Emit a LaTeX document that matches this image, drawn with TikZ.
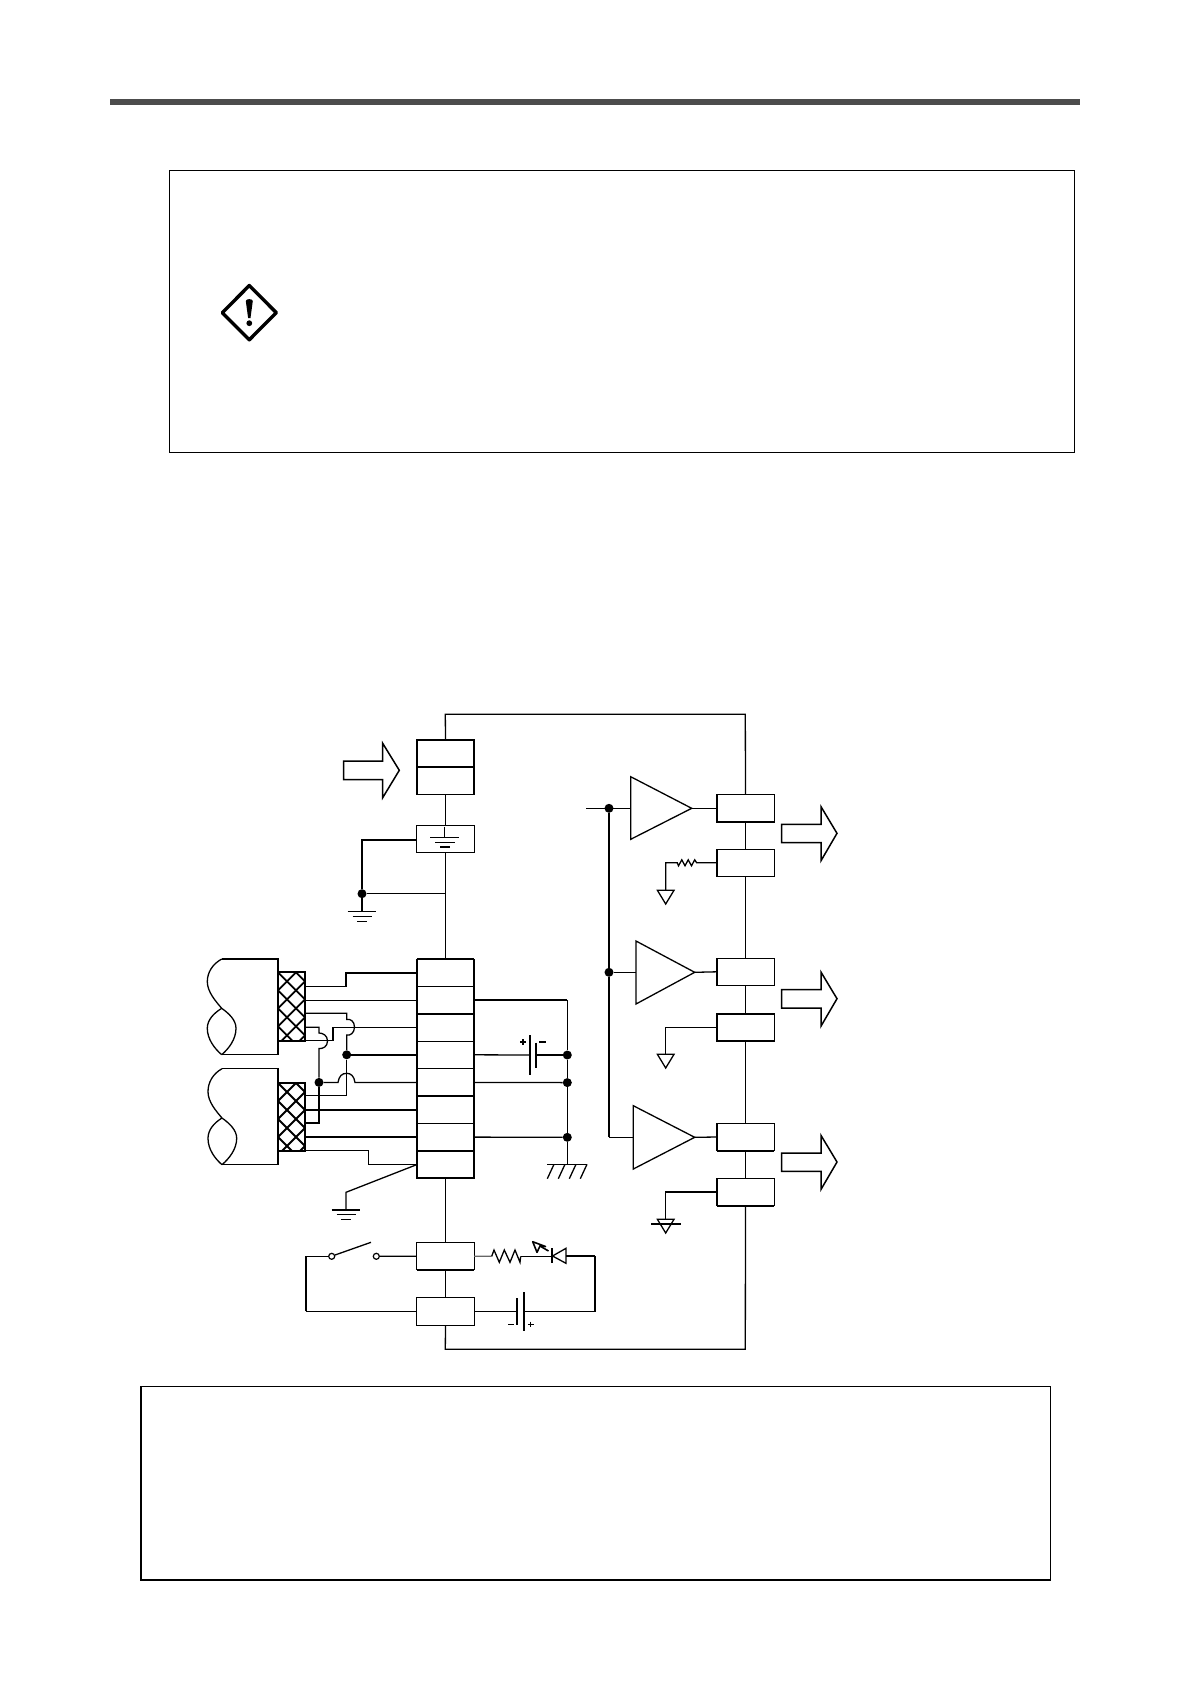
\documentclass[tikz,border=0pt]{standalone}
\usetikzlibrary{calc}
\begin{document}
\begin{tikzpicture}[x=1pt,y=-1pt,line join=miter,
  wire/.style={line width=1.3pt},
  wirethick/.style={line width=1.8pt},
  frameline/.style={line width=1.2pt},
  termcell/.style={draw,fill=white,line width=1.1pt,rectangle,inner sep=0pt,outer sep=0pt,minimum width=57.4pt,minimum height=27.4pt,anchor=center},
  dotnode/.style={circle,fill=black,inner sep=0pt,minimum size=9pt},
  opendot/.style={circle,draw,fill=white,line width=1.2pt,inner sep=0pt,minimum size=6pt},
  amp/.style={line width=1.3pt,fill=white},
  bigarrow/.style={line width=1.5pt,fill=white},
  gnd/.pic={\draw[wire] (-14.3,0)--(14.3,0) (-9.5,4.8)--(9.5,4.8) (-4.8,9.5)--(4.8,9.5);},
  tri/.pic={\draw[wire,fill=white] (-8.3,0)--(8.3,0)--(0,13.7)--cycle;}]
\useasboundingbox (0,0) rectangle (1190,1684);
\fill[white] (0,0) rectangle (1190,1684);
% page furniture
\fill[black!70] (110,99) rectangle (1080,105);
\draw[frameline] (169.3,170.3) rectangle (1074.3,452.3);
\draw[frameline] (141,1386.5) rectangle (1050.4,1580);
% warning sign
\draw[line width=3.4pt,line join=round] (249.3,285.5)--(276.3,312.7)--(249.3,339.8)--(222.3,312.7)--cycle;
\fill[line join=round] (245.8,301) .. controls (246,298.5) and (252.6,298.5) .. (252.8,301) -- (250.5,318) -- (248.1,318) -- cycle;
\fill (249.3,323.2) circle (2.9pt);
% loop corners
\coordinate (ltl) at (445.3,714.3);
\coordinate (ltr) at (745.3,714.3);
\coordinate (lbl) at (445.3,1349.3);
\coordinate (lbr) at (745.3,1349.3);
% left boxes
\node[termcell] (Ia) at (445.5,753.3) {};
\node[termcell] (Ib) at (445.5,780.7) {};
\node[termcell,minimum height=26.6pt] (Gb) at (445.5,839) {};
\foreach \n/\y in {1/973,2/1000.3,3/1027.4,4/1054.8,5/1082.4,6/1109.6,7/1137.1,8/1164.6}
  \node[termcell] (T\n) at (445.5,\y) {};
\node[termcell] (Ba) at (445.5,1256.2) {};
\node[termcell,minimum height=28pt] (Bb) at (445.5,1311.3) {};
% right boxes
\node[termcell] (Ra) at (745.5,808.3) {};
\node[termcell] (Rb) at (745.5,862.8) {};
\node[termcell] (Rc) at (745.5,971.8) {};
\node[termcell] (Rd) at (745.5,1027.5) {};
\node[termcell] (Re) at (745.5,1137) {};
\node[termcell] (Rf) at (745.5,1192) {};
% thick edges
\draw[wirethick] (Ia.north west) rectangle (Ib.south east) (Ia.south west)--(Ia.south east);
\draw[wirethick] (T1.north west)--(T1.north east) (T1.north west)--(T8.south west) (T1.north east)--(T8.south east) (T8.south west)--(T8.south east);
\draw[wirethick] (T2.south west)--(T2.south east) (T4.south west)--(T4.south east) (T5.south west)--(T5.south east) (T7.south west)--(T7.south east);
\draw[wirethick] (Ba.south west)--(Ba.south east);
\draw[wirethick] (Ra.south west)--(Ra.south east) (Ra.north west)--(Ra.south west);
\draw[wirethick] (Rb.north west)--(Rb.south west) (Rc.north west)--(Rc.south west);
\draw[wirethick] (Rd.north west)--(Rd.north east) (Rd.north west)--(Rd.south west) (Rd.south west)--(Rd.south east);
\draw[wirethick] (Re.south west)--(Re.south east) (Re.north west)--(Re.south west);
\draw[wirethick] (Rf.south west)--(Rf.south east) (Rf.north west)--(Rf.south west);
% main loop
\draw[wire] (Ia.north) -- (ltl) -- (ltr) -- (Ra.north);
\draw[wire] (Ib.south) -- (Gb.north);
\draw[wire] (Gb.south) -- (T1.north);
\draw[wire] (T8.south) -- (Ba.north);
\draw[wire] (Ba.south) -- (Bb.north);
\draw[wire] (Bb.south) -- (lbl) -- (lbr) -- (Rf.south);
\draw[wire] (Ra.south) -- (Rb.north);
\draw[wire] (Rb.south) -- (Rc.north);
\draw[wire] (Rc.south) -- (Rd.north);
\draw[wire] (Rd.south) -- (Re.north);
\draw[wire] (Re.south) -- (Rf.north);
% input arrow
\draw[bigarrow] (343.7,761)--(382.7,761)--(382.7,743.3)--(399.3,770.3)--(382.7,797.7)--(382.7,779.7)--(343.7,779.7)--cycle;
% output arrows
\foreach \d in {0,165.4,328.7}{
  \draw[bigarrow] (781.7,824.3+\d)--(821,824.3+\d)--(821,806.7+\d)--(837,833.3+\d)--(821,860.7+\d)--(821,842.7+\d)--(781.7,842.7+\d)--cycle;
}
% ground box
\draw[wire] (Gb.north) ++(-1,1)--++(0,10.6);
\draw[wire] (430.3,837.3)--(459,837.3) (435,842.3)--(455,842.3) (440,847)--(450,847);
\node[dotnode] (dg) at (362,893.7) {};
\coordinate (mainj) at (445.3,893.7);
\coordinate (g1) at (362,911.7);
\draw[wirethick] (Gb.west |- 0,840) -- (362,840) -- (dg);
\draw[wire] (dg) -- (g1);
\draw[wire] (dg) -- (mainj);
\pic at (g1) {gnd};
% cables
\newcommand{\cablepath}[7]{%
  \draw[wire] (#2,#3) -- (278,#3) -- (278,#7) -- (#2,#7);
  \draw[wire] (#2,#3) .. controls ($(#2,#3)+(-9,5)$) and (#1,#4-9.5) .. (#1,#4) .. controls (#1,#4+10) and ($(#2,#5)+(-6,-7)$) .. (#2,#5) .. controls ($(#2,#5)+(7,5)$) and (#1+28.7,#6-8.5) .. (#1+28.7,#6) .. controls (#1+28.7,#6+11) and ($(#2,#7)+(7,-6)$) .. (#2,#7);
  \draw[wire] (#2,#5) .. controls ($(#2,#5)+(-8,5)$) and (#1,#6-8.5) .. (#1,#6) .. controls (#1,#6+11) and ($(#2,#7)+(-7,-6)$) .. (#2,#7);
}
\cablepath{207.3}{221.7}{959}{981.7}{1008.3}{1028.3}{1054.7}
\cablepath{208}{222}{1068.7}{1091.7}{1118}{1138.3}{1164.7}
% braids
\begin{scope}
 \clip (278,972.3) rectangle (305.3,1040.7);
 \foreach \k in {-3,...,8}{
  \draw[wirethick] (278,972.3+\k*18)--(318,1012.3+\k*18);
  \draw[wirethick] (278,972.3+\k*18)--(318,932.3+\k*18);
 }
\end{scope}
\draw[wirethick] (278,972.3) rectangle (305.3,1040.7);
\begin{scope}
 \clip (278,1083) rectangle (305.3,1150.7);
 \foreach \k in {-3,...,8}{
  \draw[wirethick] (278,1083+\k*18)--(318,1123+\k*18);
  \draw[wirethick] (278,1083+\k*18)--(318,1043+\k*18);
 }
\end{scope}
\draw[wirethick] (278,1083) rectangle (305.3,1150.7);
% dots between
\node[dotnode] (d1) at (346.7,1054.8) {};
\node[dotnode] (d2) at (319,1082.4) {};
% cable wires
\draw[wire] (305.3,986.3) -- (346,986.3) -- (346,973) -- (T1.west);
\draw[wire] (305.3,1000.3) -- (T2.west);
\draw[wire] (305.3,1013.3) -- (346.7,1013.3) -- (346.7,1019.5) .. controls (350,1018.5) and (354.5,1021) .. (354.5,1027) .. controls (354.5,1033) and (350,1036) .. (346.7,1035) -- (d1);
\draw[wire] (305.3,1027.3) -- (319,1027.3) -- (319,1033) .. controls (323,1033) and (327.5,1035.5) .. (327.5,1041) .. controls (327.5,1046.5) and (323,1049) .. (319,1048.5) -- (d2);
\draw[wire] (305.3,1040.7) -- (333,1040.7) -- (333,1027.4) -- (T3.west);
\draw[wirethick] (d1) -- (T4.west);
\draw[wire] (d2) -- (338,1082.4) .. controls (339,1076) and (342,1073.3) .. (346.7,1073.3) .. controls (351,1073.3) and (354,1076) .. (355,1082.4) -- (T5.west);
\draw[wire] (d1) -- (346.7,1095.7) -- (305.3,1095.7);
\draw[wirethick] (d2) -- (319,1123.3) -- (305.3,1123.3);
\draw[wirethick] (305.3,1109.6) -- (T6.west);
\draw[wire] (305.3,1137.1) -- (T7.west);
\draw[wire] (305.3,1150.7) -- (368.3,1150.7) -- (368.3,1164.6) -- (T8.west);
\coordinate (g2) at (346,1210);
\draw[wire] (T8.west) -- (346,1192.3) -- (g2);
\pic at (g2) {gnd};
% battery side
\coordinate (rt) at (567.3,1000.3);
\node[dotnode] (e1) at (567.3,1055) {};
\node[dotnode] (e2) at (567.3,1082.6) {};
\node[dotnode] (e3) at (567.3,1137.3) {};
\coordinate (e4) at (567.3,1164.3);
\draw[wirethick] (T2.east) -- (rt);
\draw[wire] (rt) -- (e1) -- (e2) -- (e3) -- (e4);
\draw[wire] (T4.east) -- (529.7,1055);
\draw[wire] (536,1055) -- (e1);
\draw[wirethick] (529.7,1035) -- (529.7,1074.5);
\draw[wirethick] (535.7,1042.5) -- (535.7,1068);
\draw[line width=1.2pt] (520,1042)--(526,1042) (523,1039)--(523,1045) (539,1042)--(546,1042);
\draw[wire] (T5.east) -- (e2);
\draw[wire] (T7.east) -- (e3);
\draw[wire] (547.3,1164.3) -- (587.3,1164.3);
\foreach \q in {0,1,2,3}
  \draw[wire] (554+\q*11,1164.3) -- (547.3+\q*11,1178.7);
% bottom loop
\node[opendot] (s1) at (331.7,1256.3) {};
\node[opendot] (s2) at (376.3,1256.3) {};
\draw[wire] (s2) -- (Ba.west);
\draw[wire] (335,1255) -- (371,1242.3);
\coordinate (lc1) at (305.7,1256.3);
\coordinate (lc2) at (305.7,1311.3);
\draw[wire] (s1) -- (lc1);
\draw[wirethick] (lc1) -- (lc2);
\draw[wire] (lc2) -- (Bb.west);
\coordinate (r1a) at (491.7,1256.3);
\coordinate (r1b) at (520.7,1256.3);
\draw[wire,draw=black!60] (Ba.east) -- (r1a);
\draw[wire] (r1a) -- (494,1250) -- (499.3,1262.3) -- (504.3,1250) -- (510,1262.3) -- (515,1250) -- (520,1262.3) -- (r1b);
\draw[wire] (r1b) -- (551.7,1256.3);
\draw[wirethick] (551.7,1248.3) -- (551.7,1263.3);
\draw[wire] (566,1248.3) -- (566,1263.3) -- (552.5,1256) -- cycle;
% led arrows
\draw[line width=1.6pt,line join=round] (532.7,1241.7) -- (537,1252.3) -- (540,1246) -- (545.5,1246.5) -- cycle;
\draw[line width=1.6pt] (540,1246) -- (548.5,1251);
\coordinate (rc1) at (595,1256);
\coordinate (rc2) at (595,1311.3);
\draw[wirethick] (566,1256) -- (rc1);
\draw[wire] (rc1) -- (rc2) -- (524.3,1311.3);
\draw[wirethick] (524,1292.3) -- (524,1330.7);
\draw[wirethick] (517,1298.3) -- (517,1325);
\draw[wire] (Bb.east) -- (517,1311.3);
\draw[line width=1.2pt] (508,1324.3)--(514,1324.3) (528,1324.3)--(533.5,1324.3) (530.8,1321.5)--(530.8,1327);
% amplifiers
\node[dotnode] (ja) at (609,808.3) {};
\node[dotnode] (jb) at (609,972.3) {};
\coordinate (jc) at (609,1137.3);
\coordinate (ax) at (586,808.3);
\coordinate (tipa) at (691.7,808.3);
\coordinate (tipb) at (694.7,972.3);
\coordinate (tipc) at (694.7,1137.3);
\draw[amp] (630.7,776.7)--(630.7,839.3)--(tipa)--cycle;
\draw[amp] (636,941)--(636,1004)--(tipb)--cycle;
\draw[amp] (633.3,1105.7)--(633.3,1169)--(tipc)--cycle;
\draw[wire] (ax) -- (630.7,808.3);
\draw[wire] (jb) -- (636,972.3);
\draw[line width=2.2pt] (ja) -- (jb) -- (jc);
\draw[wire] (jc) -- (633.3,1137.3);
\draw[wire] (tipa) -- (Ra.west);
\draw[wire] (tipb) -- (Rc.west);
\draw[wire] (tipc) -- (Re.west);
% returns
\coordinate (ga) at (665.7,890.3);
\coordinate (gb) at (665.7,1054.3);
\coordinate (gc) at (665.7,1219.3);
\draw[wire] (Rb.west) -- (696.7,862.8) -- (694.7,859.8) -- (691.5,865.8) -- (688.2,859.8) -- (685,865.8) -- (681.8,859.8) -- (678.5,865.8) -- (677.3,862.8) -- (665.7,862.8) -- (ga);
\draw[wire] (Rd.west) -- (665.7,1027.5) -- (gb);
\draw[wire] (Rf.west) -- (665.7,1192) -- (gc);
\pic at (ga) {tri};
\pic at (gb) {tri};
\pic at (gc) {tri};
\draw[wire] (651.3,1224)--(680.7,1224);
\end{tikzpicture}
\end{document}
